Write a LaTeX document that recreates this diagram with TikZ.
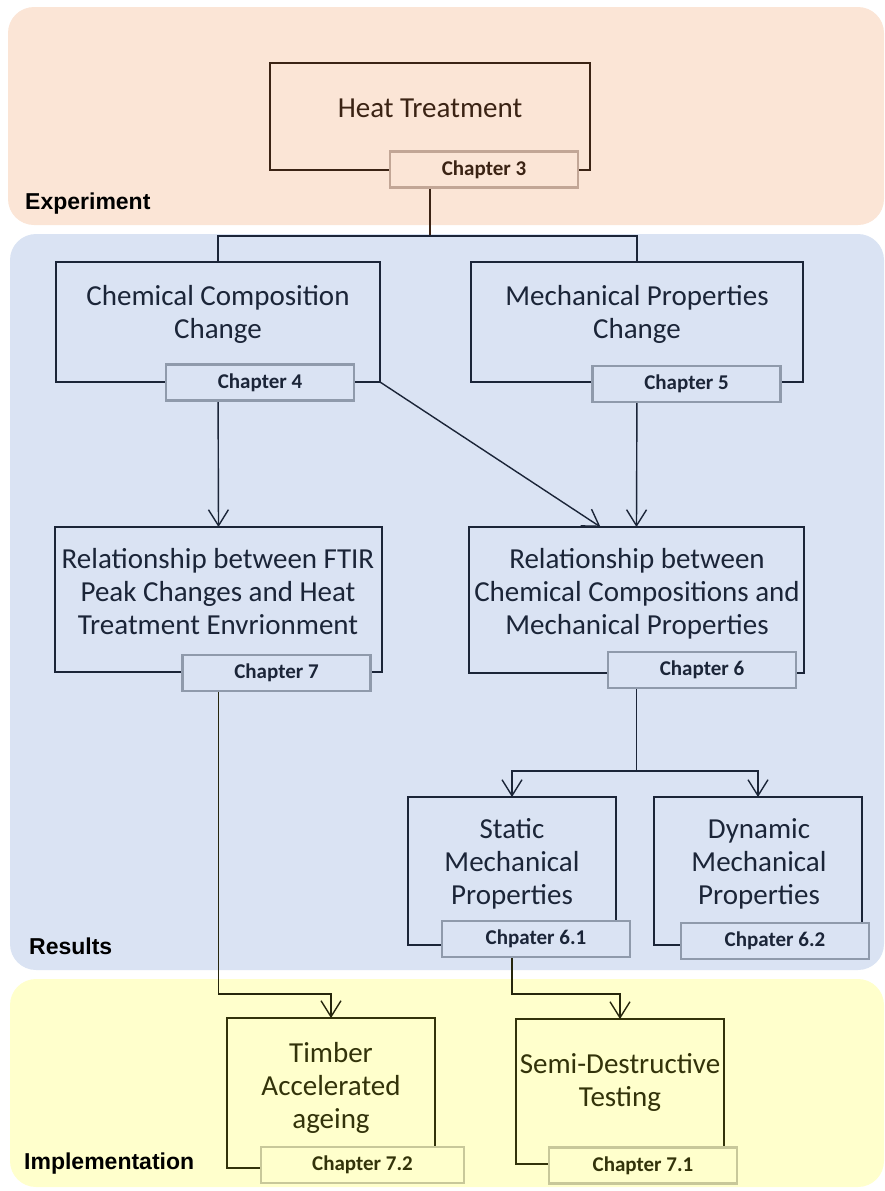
\documentclass[tikz,border=0pt]{standalone}
\usepackage{fontspec}
\setmainfont{Carlito}
\newfontfamily\grpfont{Liberation Sans}
\usetikzlibrary{arrows.meta,positioning}
\definecolor{expfill}{HTML}{FBE5D6}
\definecolor{expdark}{HTML}{3B2314}
\definecolor{exptag}{HTML}{C2A696}
\definecolor{resfill}{HTML}{DAE3F3}
\definecolor{resdark}{HTML}{1B2538}
\definecolor{restag}{HTML}{8F9AAB}
\definecolor{impfill}{HTML}{FFFFCC}
\definecolor{impdark}{HTML}{33330A}
\definecolor{impline}{HTML}{26260C}
\definecolor{imptag}{HTML}{C8C89A}
\begin{document}
\begin{tikzpicture}[x=1bp, y=-1bp,
  band/.style={rounded corners=26bp},
  pbox/.style={rectangle, line width=2.5bp, inner sep=0pt, outer sep=0pt},
  tbox/.style={rectangle, line width=2.4bp, inner sep=0pt, minimum width=188bp,
               minimum height=36bp, font=\fontsize{21bp}{25bp}\selectfont\bfseries},
  btxt/.style={align=center, inner sep=0pt, font=\fontsize{29bp}{33bp}\selectfont},
  grp/.style={anchor=west, inner sep=0pt, font=\grpfont\bfseries\fontsize{23bp}{27bp}\selectfont},
  ln/.style={line width=1.5bp},
  arr/.style={-{Straight Barb[length=16bp,width=20bp]}, line width=1.4bp}
]
\useasboundingbox (0,0) rectangle (885,1191);

% Bands
\fill[band, expfill] (8,7) rectangle (884,225);
\fill[band, resfill] (10,234) rectangle (884,970);
\fill[band, impfill] (10,979) rectangle (884,1187);

\node[grp] (lexp) at (25,204) {Experiment};
\node[grp] (lres) at (29,946) {Results};
\node[grp] (limp) at (24,1164) {Implementation};

% Boxes
\node[pbox, draw=expdark, minimum width=320bp, minimum height=107bp] (heat) at (430,116.5) {};
\node[pbox, draw=resdark, minimum width=324bp, minimum height=120bp] (chem) at (218,322) {};
\node[pbox, draw=resdark, minimum width=332bp, minimum height=120bp] (mech) at (637,322) {};
\node[pbox, draw=resdark, minimum width=327bp, minimum height=145bp] (ftir) at (218.5,599.5) {};
\node[pbox, draw=resdark, minimum width=335bp, minimum height=146bp] (rel)  at (636.5,600) {};
\node[pbox, draw=resdark, minimum width=208bp, minimum height=148bp] (stat) at (512,871) {};
\node[pbox, draw=resdark, minimum width=208bp, minimum height=148bp] (dyn)  at (758,871) {};
\node[pbox, draw=impdark, minimum width=208bp, minimum height=150bp] (timb) at (331,1093) {};
\node[pbox, draw=impdark, minimum width=208bp, minimum height=145bp] (semi) at (620,1091.5) {};

% Connectors
\coordinate (split1) at (430,236);
\coordinate (split2) at (636.5,771);
\coordinate (bend1) at (218.5,994);
\coordinate (bend2) at (512,994);
\draw[ln, line width=2.4bp, expdark] (heat.south) -- (split1);
\draw[ln, line width=2.4bp, resdark] (chem.north) |- (split1) -| (mech.north);
\draw[arr, resdark] (chem.south) -- (ftir.north);
\draw[arr, resdark] (chem.south east) -- ([xshift=-36bp]rel.north);
\draw[arr, resdark] (mech.south) -- (rel.north);
\draw[ln, line width=1.9bp, resdark] (rel.south) -- (split2);
\draw[arr, resdark] (split2) -| (stat.north);
\draw[arr, resdark] (split2) -| (dyn.north);
\draw[arr, impline] (ftir.south) -- (bend1) -| (timb.north);
\draw[arr, impline] (stat.south) -- (bend2) -| (semi.north);

% Chapter tags
\node[tbox, draw=exptag, fill=expfill, text=expdark] (t3)  at (484,169.5) {Chapter 3};
\node[tbox, draw=restag, fill=resfill, text=resdark] (t4)  at (260,382.5) {Chapter 4};
\node[tbox, draw=restag, fill=resfill, text=resdark] (t5)  at (686.5,384) {Chapter 5};
\node[tbox, draw=restag, fill=resfill, text=resdark] (t7)  at (276.5,673) {Chapter 7};
\node[tbox, draw=restag, fill=resfill, text=resdark] (t6)  at (702,670) {Chapter 6};
\node[tbox, draw=restag, fill=resfill, text=resdark] (t61) at (536,939) {Chpater 6.1};
\node[tbox, draw=restag, fill=resfill, text=resdark] (t62) at (775,941) {Chpater 6.2};
\node[tbox, draw=imptag, fill=impfill, text=impdark, minimum width=203bp] (t72) at (362.5,1165) {Chapter 7.2};
\node[tbox, draw=imptag, fill=impfill, text=impdark] (t71) at (643,1165.5) {Chapter 7.1};

% Box texts
\node[btxt, text=expdark] (heat-t) at (430,108) {Heat Treatment};
\node[btxt, text=resdark] (chem-t) at (218,314.5) {Chemical Composition\\Change};
\node[btxt, text=resdark] (mech-t) at (637,314.5) {Mechanical Properties\\Change};
\node[btxt, text=resdark] (ftir-t) at (218,591.5) {Relationship between FTIR\\Peak Changes and Heat\\Treatment Envrionment};
\node[btxt, text=resdark] (rel-t)  at (637,594) {Relationship between\\Chemical Compositions and\\Mechanical Properties};
\node[btxt, text=resdark] (stat-t) at (512,864) {Static\\Mechanical\\Properties};
\node[btxt, text=resdark] (dyn-t)  at (759,864) {Dynamic\\Mechanical\\Properties};
\node[btxt, text=impdark] (timb-t) at (331,1088) {Timber\\Accelerated\\ageing};
\node[btxt, text=impdark] (semi-t) at (620,1082) {Semi-Destructive\\Testing};
\end{tikzpicture}
\end{document}
